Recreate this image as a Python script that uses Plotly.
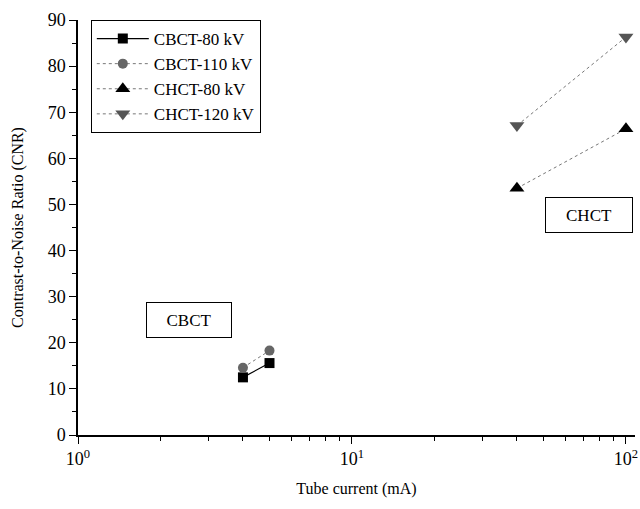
import plotly.graph_objects as go

tube_current_cbct = [4, 5]
tube_current_chct = [40, 100]
cbct_80 = [12.5, 15.6]
cbct_110 = [14.6, 18.3]
chct_80 = [53.5, 66.4]
chct_120 = [67.1, 86.3]

series_names = ["CBCT-80 kV", "CBCT-110 kV", "CHCT-80 kV", "CHCT-120 kV"]
x_tick_vals = [1, 10, 100]
x_tick_text = ["10<sup>0</sup>", "10<sup>1</sup>", "10<sup>2</sup>"]

FONT = "Liberation Serif, Times New Roman, serif"

fig = go.Figure()
fig.add_trace(go.Scatter(x=tube_current_cbct, y=cbct_80, name=series_names[0], mode="lines+markers",
                         line=dict(color="black", width=1.2),
                         marker=dict(symbol="square", size=10, color="black")))
fig.add_trace(go.Scatter(x=tube_current_cbct, y=cbct_110, name=series_names[1], mode="lines+markers",
                         line=dict(color="#777777", width=1, dash="dot"),
                         marker=dict(symbol="circle", size=10, color="#666666")))
fig.add_trace(go.Scatter(x=tube_current_chct, y=chct_80, name=series_names[2], mode="lines+markers",
                         line=dict(color="#777777", width=1, dash="dot"),
                         marker=dict(symbol="triangle-up", size=13, color="black")))
fig.add_trace(go.Scatter(x=tube_current_chct, y=chct_120, name=series_names[3], mode="lines+markers",
                         line=dict(color="#777777", width=1, dash="dot"),
                         marker=dict(symbol="triangle-down", size=13, color="#555555")))

fig.add_annotation(x=0.405, y=24.9, xref="x", yref="y", text="CBCT", showarrow=False,
                   font=dict(family=FONT, size=17, color="black"),
                   bordercolor="black", borderwidth=1, width=82, height=32, bgcolor="white")
fig.add_annotation(x=1.865, y=47.7, xref="x", yref="y", text="CHCT", showarrow=False,
                   font=dict(family=FONT, size=17, color="black"),
                   bordercolor="black", borderwidth=1, width=84, height=32, bgcolor="white")

fig.update_layout(
    width=640, height=509,
    margin=dict(l=78, r=5, t=20, b=74),
    paper_bgcolor="white", plot_bgcolor="white",
    font=dict(family=FONT, size=16, color="black"),
    showlegend=True,
    legend=dict(x=0.023, y=1.0, xanchor="left", yanchor="top",
                bordercolor="black", borderwidth=1, bgcolor="white",
                font=dict(family=FONT, size=17), tracegroupgap=0, itemwidth=52),
    xaxis=dict(type="log", range=[0, 2.033], tickvals=x_tick_vals, ticktext=x_tick_text,
               automargin=False,
               showgrid=False, zeroline=False, showline=True, linecolor="black", linewidth=1.5,
               ticks="outside", ticklen=7, tickcolor="black",
               minor=dict(ticks="outside", ticklen=4, tickcolor="black",
                          tickvals=[2, 3, 4, 5, 6, 7, 8, 9, 20, 30, 40, 50, 60, 70, 80, 90]),
               title=dict(text="Tube current (mA)", font=dict(family=FONT, size=16), standoff=14),
               tickfont=dict(family=FONT, size=18)),
    yaxis=dict(range=[0, 90], dtick=10, showgrid=False, zeroline=False, showline=True,
               automargin=False,
               linecolor="black", linewidth=1.5, ticks="outside", ticklen=7, tickcolor="black",
               minor=dict(ticks="outside", ticklen=4, tickcolor="black", dtick=5),
               title=dict(text="Contrast-to-Noise Ratio (CNR)", font=dict(family=FONT, size=16), standoff=20),
               tickfont=dict(family=FONT, size=18)),
)

fig.write_html("out.html", config={"displayModeBar": False},
               post_script="document.body.style.margin='0';document.body.style.padding='0';")
